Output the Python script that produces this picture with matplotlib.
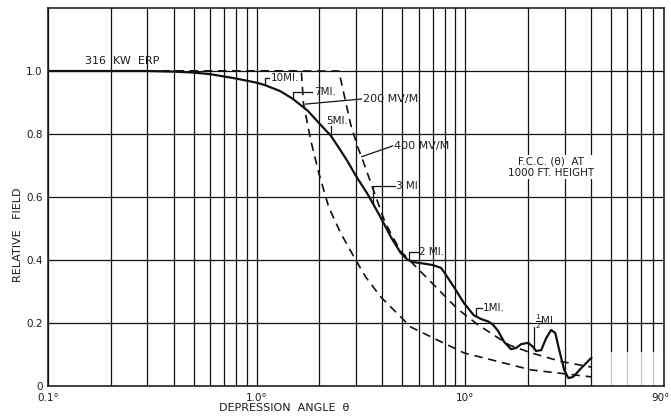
import numpy as np
import matplotlib.pyplot as plt
import matplotlib.transforms as mtransforms
from matplotlib.ticker import LogLocator, NullFormatter
from matplotlib.patches import Rectangle

# measured relative field (solid curve), depression angle in degrees
solid_deg = [0.1, 0.3, 0.4, 0.5, 0.6, 0.8, 1.0, 1.1, 1.3, 1.49, 1.76, 2.03, 2.27,
             2.53, 2.74, 2.99, 3.42, 3.94, 4.41, 4.92, 5.32, 5.7, 6.14, 7.0, 7.67,
             7.93, 8.85, 9.89, 11.0, 12.0, 12.9, 13.6, 14.4, 15.4, 16.6, 17.6, 18.6,
             20.1, 21.2, 21.9, 23.2, 24.5, 25.9, 27.1, 28.3, 29.9, 31.3, 33.0, 36.1, 40.3]
solid_val = [1.0, 1.0, 0.998, 0.995, 0.99, 0.976, 0.963, 0.955, 0.936, 0.912, 0.874,
             0.829, 0.795, 0.748, 0.712, 0.668, 0.608, 0.535, 0.473, 0.422, 0.40, 0.393,
             0.39, 0.384, 0.375, 0.362, 0.314, 0.263, 0.225, 0.212, 0.205, 0.195, 0.175,
             0.14, 0.117, 0.121, 0.133, 0.137, 0.124, 0.111, 0.114, 0.152, 0.178, 0.168,
             0.114, 0.051, 0.025, 0.029, 0.057, 0.089]

# F.C.C. curves (dashed)
fcc200_deg = [0.1, 1.64, 1.68, 1.82, 1.99, 2.22, 2.53, 2.99, 3.34, 3.94, 5.5, 9.89, 20.8, 40.3]
fcc200_val = [1.0, 1.0, 0.897, 0.78, 0.676, 0.568, 0.486, 0.40, 0.346, 0.283, 0.187,
              0.105, 0.051, 0.029]
fcc400_deg = [0.1, 2.48, 2.62, 2.83, 3.05, 3.2, 3.6, 4.08, 4.41, 4.92, 5.4, 6.87, 9.2,
              11.5, 16.3, 20.8, 28.8, 40.3]
fcc400_val = [1.0, 1.0, 0.93, 0.83, 0.76, 0.725, 0.63, 0.53, 0.483, 0.428, 0.40, 0.33,
              0.245, 0.195, 0.13, 0.105, 0.078, 0.06]

# distance markers along the measured curve
mile_labels = ["10MI.", "7MI.", "5MI.", "3 MI", "2 MI.", "1MI.", r"$\frac{1}{2}$MI."]
mile_deg = [1.1, 1.49, 2.27, 3.62, 5.38, 11.3, 21.5]
mile_text_x = [1.17, 1.88, 2.15, 4.66, 6.01, 12.2, 21.7]
mile_text_y = [0.978, 0.933, 0.841, 0.635, 0.425, 0.248, 0.205]
mile_leader_top = [0.978, 0.933, 0.824, 0.635, 0.425, 0.248, 0.187]

fcc_labels = ["200 MV/M", "400 MV/M"]
fcc_from = [(1.72, 0.895), (3.2, 0.728)]
fcc_text = [(3.23, 0.911), (4.56, 0.762)]

xticks = [0.1, 1, 10, 90]
xtick_labels = ["0.1°", "1.0°", "10°", "90°"]
yticks = [0, 0.2, 0.4, 0.6, 0.8, 1.0]
ytick_labels = ["0", "0.2", "0.4", "0.6", "0.8", "1.0"]

INK = "#1c1c1c"

fig = plt.figure(figsize=(6.71, 4.17), dpi=100)
ax = fig.add_axes([48 / 671, 31 / 417, 616 / 671, 378 / 417])

ax.set_xscale("log")
ax.set_xlim(0.1, 90)
ax.set_ylim(0, 1.2)
ax.set_xticks(xticks)
ax.set_xticklabels(xtick_labels)
ax.xaxis.set_minor_locator(LogLocator(base=10, subs=np.arange(2, 10)))
ax.xaxis.set_minor_formatter(NullFormatter())
ax.set_yticks(yticks)
ax.set_yticklabels(ytick_labels)
ax.tick_params(which="both", length=0, labelsize=7.5, colors=INK)
ax.tick_params(axis="x", pad=5)
ax.tick_params(axis="y", pad=4)
ax.grid(True, which="both", axis="x", color="#111111", lw=0.9)
ax.grid(True, which="major", axis="y", color="#111111", lw=0.9)
ax.set_axisbelow(True)
for s in ax.spines.values():
    s.set_linewidth(1.1)
    s.set_color("#111111")

# last tick label sits against the right edge of the page
last = ax.get_xticklabels()[-1]
last.set_ha("right")
last.set_transform(last.get_transform() +
                   mtransforms.ScaledTranslation(6 / 100, 0, fig.dpi_scale_trans))

# scan blotch in bottom right corner
ax.add_patch(Rectangle((0.887, 0.0), 0.12, 0.09, transform=ax.transAxes,
                       facecolor="white", alpha=0.75, edgecolor="none",
                       zorder=1, clip_on=False))

ax.plot(fcc200_deg, fcc200_val, color="#111111", lw=1.2, dashes=(5, 3.5), zorder=3)
ax.plot(fcc400_deg, fcc400_val, color="#111111", lw=1.2, dashes=(5, 3.5), zorder=3)
ax.plot(solid_deg, solid_val, color="#111111", lw=1.6, zorder=4)

# mile markers with bracket leaders
for lab, d, tx, ty, top in zip(mile_labels, mile_deg, mile_text_x, mile_text_y,
                               mile_leader_top):
    yc = np.interp(np.log10(d), np.log10(solid_deg), solid_val)
    xs = [d, d]
    ys = [yc, top]
    if tx > d * 1.02:
        xs.append(tx * 0.985)
        ys.append(top)
    ax.plot(xs, ys, color="#111111", lw=0.9, zorder=5)
    ax.text(tx, ty, lab, fontsize=7.5, color=INK, ha="left", va="center", zorder=6)

for lab, (fx, fy), (tx, ty) in zip(fcc_labels, fcc_from, fcc_text):
    ax.plot([fx, tx * 0.985], [fy, ty], color="#111111", lw=0.9, zorder=5)
    ax.text(tx, ty, lab, fontsize=8, color=INK, ha="left", va="center", zorder=6)

ax.text(0.1506, 1.032, "316  KW  ERP", fontsize=8, color=INK, ha="left", va="center")
ax.text(25.9, 0.695, "F.C.C. (θ)  AT\n1000 FT. HEIGHT", fontsize=7.5, color=INK,
        ha="center", va="center", linespacing=1.25,
        bbox=dict(facecolor="white", edgecolor="none", pad=0.5))

fig.text(284 / 671, 1 - 408 / 417, "DEPRESSION  ANGLE  θ", fontsize=8, color=INK,
         ha="center", va="center")
fig.text(18 / 671, 1 - 235 / 417, "RELATIVE   FIELD", fontsize=8, color=INK,
         ha="center", va="center", rotation=90)

fig.savefig("out.png", dpi=100)
